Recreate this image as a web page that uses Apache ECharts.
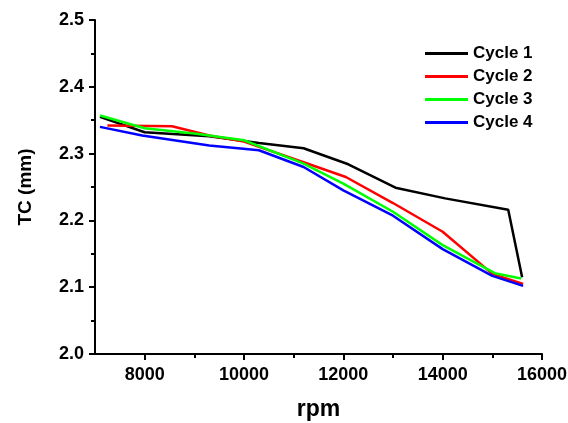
<!DOCTYPE html>
<html>
<head>
<meta charset="utf-8">
<script src="https://cdn.jsdelivr.net/npm/echarts@6/dist/echarts.min.js"></script>
<style>
html,body{margin:0;padding:0;background:#fff;}
#chart{width:568px;height:423px;}
</style>
</head>
<body>
<div id="chart"></div>
<script>
var seriesNames = ['Cycle 1', 'Cycle 2', 'Cycle 3', 'Cycle 4'];
var cycle1 = [[7100,2.355],[8000,2.332],[9300,2.326],[10300,2.316],[11200,2.308],[12100,2.284],[13050,2.249],[14050,2.233],[15320,2.216],[15600,2.115]];
var cycle2 = [[7250,2.342],[8550,2.341],[9300,2.327],[10000,2.318],[11200,2.287],[12050,2.265],[13000,2.226],[14000,2.183],[15000,2.120],[15620,2.105]];
var cycle3 = [[7100,2.357],[8000,2.338],[9000,2.330],[10000,2.320],[11200,2.285],[12000,2.255],[13000,2.213],[14000,2.163],[15050,2.121],[15580,2.113]];
var cycle4 = [[7100,2.340],[7950,2.327],[9300,2.312],[10300,2.305],[11200,2.280],[12000,2.245],[13000,2.207],[14000,2.157],[15000,2.117],[15620,2.102]];
var xMajorTicks = [8000,10000,12000,14000,16000];
var xMinorTicks = [9000,11000,13000,15000];
var colors = ['#000000','#ff0000','#00ff00','#0000ff'];

var chart = echarts.init(document.getElementById('chart'), null, {renderer:'canvas'});
var font = 'Liberation Sans, Arial, sans-serif';
var axisLineStyle = {color:'#000', width:2};
var allData = [cycle1, cycle2, cycle3, cycle4];
chart.setOption({
  animation:false,
  backgroundColor:'#fff',
  grid:{left:95, right:26, top:20, bottom:69, containLabel:false, outerBoundsMode:'none'},
  legend:{
    orient:'vertical', left:425, top:45, padding:0,
    itemWidth:43, itemHeight:3, itemGap:6,
    icon:'rect',
    textStyle:{fontFamily:font, fontWeight:'bold', fontSize:17, color:'#000'},
    data:seriesNames
  },
  xAxis:[{
    type:'value', min:7000, max:16000, interval:1000,
    name:'rpm', nameLocation:'middle', nameGap:44,
    nameTextStyle:{fontFamily:font, fontWeight:'bold', fontSize:23, color:'#000'},
    axisLine:{show:true, lineStyle:axisLineStyle},
    axisTick:{show:true, inside:false, length:6, lineStyle:{color:'#000', width:2}, customValues:xMajorTicks},
    axisLabel:{show:true, fontFamily:font, fontWeight:'bold', fontSize:18, color:'#000', margin:12, customValues:xMajorTicks,
      formatter:function(v){return String(v);}},
    splitLine:{show:false}
  },{
    type:'value', min:7000, max:16000, interval:1000, position:'bottom',
    axisLine:{show:false},
    axisTick:{show:true, inside:false, length:4, lineStyle:{color:'#000', width:2}, customValues:xMinorTicks},
    axisLabel:{show:false},
    splitLine:{show:false}
  }],
  yAxis:{
    type:'value', min:2.0, max:2.5, interval:0.1,
    name:'TC (mm)', nameLocation:'middle', nameGap:60, nameRotate:90,
    nameTextStyle:{fontFamily:font, fontWeight:'bold', fontSize:19, color:'#000'},
    axisLine:{show:true, lineStyle:axisLineStyle},
    axisTick:{show:true, inside:false, length:6, lineStyle:{color:'#000', width:2}},
    minorTick:{show:true, splitNumber:2, length:4, lineStyle:{color:'#000', width:2}},
    axisLabel:{fontFamily:font, fontWeight:'bold', fontSize:18, color:'#000', margin:11,
      formatter:function(v){return v.toFixed(1);}},
    splitLine:{show:false}
  },
  series: seriesNames.map(function(n,i){
    return {name:n, type:'line', xAxisIndex:0, data:allData[i], showSymbol:false, symbol:'none',
      lineStyle:{color:colors[i], width:2.5}, itemStyle:{color:colors[i]}, z:2+i};
  })
});
</script>
</body>
</html>
